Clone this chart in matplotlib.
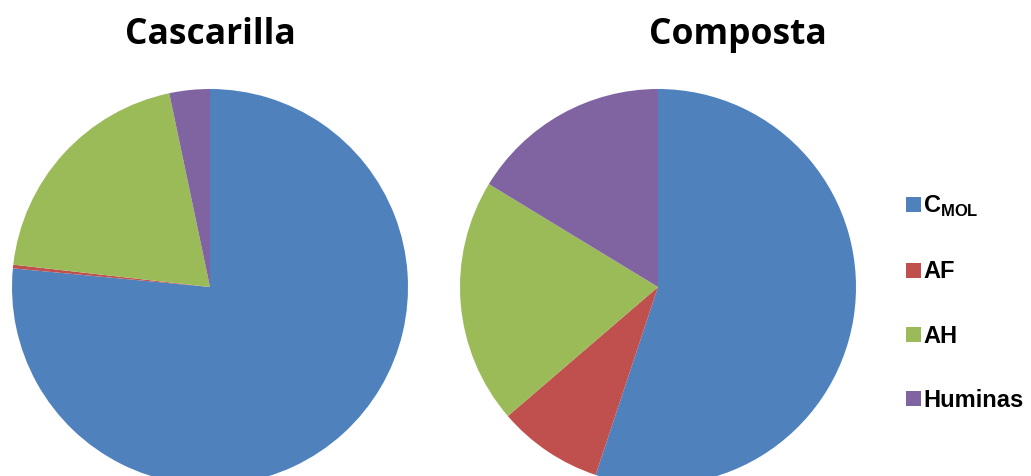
import matplotlib.pyplot as plt
from matplotlib.patches import Patch

plt.rcParams['mathtext.fontset'] = 'custom'
plt.rcParams['mathtext.bf'] = 'Liberation Sans:bold'
plt.rcParams['mathtext.rm'] = 'Liberation Sans:bold'

labels = [r'C$_{\mathbf{MOL}}$', 'AF', 'AH', 'Huminas']
colors = ['#4F81BD', '#C0504D', '#9BBB59', '#8064A2']

cascarilla = [76.5, 0.3, 19.9, 3.3]
composta = [55.1, 8.6, 20.0, 16.3]

W, H = 1031, 476
fig = plt.figure(figsize=(W / 100, H / 100), dpi=100)

# pie centres / radius in pixels, plus title centre x
R = 198
for cx, tx, vals, title in [(210, 210, cascarilla, 'Cascarilla'),
                            (658, 738, composta, 'Composta')]:
    cy = 287
    ax = fig.add_axes([(cx - R) / W, (H - cy - R) / H, 2 * R / W, 2 * R / H])
    ax.pie(vals, colors=colors, startangle=90, counterclock=False,
           wedgeprops=dict(linewidth=0))
    ax.set_xlim(-1, 1)
    ax.set_ylim(-1, 1)
    ax.set_aspect('auto')
    ax.axis('off')
    fig.text(tx / W, 1 - 35 / H, title, ha='center', va='center',
             fontsize=25.5, fontweight='bold', family='Open Sans')

handles = [Patch(facecolor=c, edgecolor='none') for c in colors]
fig.legend(handles, labels, loc='center left', bbox_to_anchor=(897 / W, 1 - 303 / H),
           frameon=False, handlelength=0.6, handleheight=0.6, handletextpad=0.1,
           labelspacing=1.75, borderaxespad=0,
           prop={'family': 'Liberation Sans', 'weight': 'bold', 'size': 17})

fig.savefig('out.png', dpi=100)
